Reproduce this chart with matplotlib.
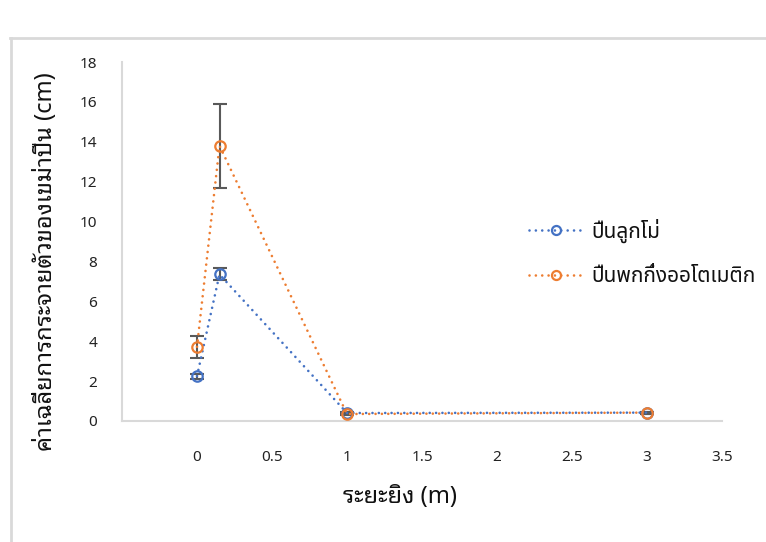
import matplotlib
matplotlib.use("Agg")
import matplotlib.pyplot as plt
from matplotlib.lines import Line2D

# Data
distance = [0, 0.15, 1, 3]
revolver = [2.25, 7.35, 0.4, 0.42]
revolver_err = [0.12, 0.3, 0.05, 0.05]
pistol = [3.72, 13.8, 0.35, 0.42]
pistol_err = [0.55, 2.1, 0.05, 0.05]
series_names = ["ปืนลูกโม่", "ปืนพกกึ่งออโตเมติก"]
xticks = [0, 0.5, 1, 1.5, 2, 2.5, 3, 3.5]
yticks = [0, 2, 4, 6, 8, 10, 12, 14, 16, 18]
xlabel = "ระยะยิง (m)"
ylabel = "ค่าเฉลี่ยการกระจายตัวของเขม่าปืน (cm)"

BLUE = "#4472C4"
ORANGE = "#ED7D31"
ERR = "#595959"
GRID = "#D9D9D9"
TICKFONT = ["Noto Sans", "DejaVu Sans"]
LOOPED = ["Noto Sans Thai Looped", "DejaVu Sans"]
LOOPLESS = ["Noto Sans Thai", "DejaVu Sans"]
DOTS = (0, (0.01, 2.4))
LW = 1.9

fig = plt.figure(figsize=(7.66, 5.42), dpi=100)
ax = fig.add_axes([122/766, 1-421/542, 600/766, (421-62)/542])

for y, e, c in [(revolver, revolver_err, BLUE), (pistol, pistol_err, ORANGE)]:
    ax.errorbar(distance, y, yerr=e, fmt='none', ecolor=ERR, elinewidth=1.5,
                capsize=5, capthick=1.5, zorder=2)
    ax.plot(distance, y, linestyle=DOTS, dash_capstyle='round',
            color=c, lw=LW, zorder=3)
    ax.plot(distance, y, linestyle='none', marker='o', ms=7.5, mfc='none',
            mec=c, mew=1.6, zorder=4)

ax.set_xlim(-0.5, 3.5)
ax.set_ylim(0, 18)
ax.set_xticks(xticks)
ax.set_xticklabels([f"{v:g}" for v in xticks], fontfamily=TICKFONT, fontsize=11)
ax.set_yticks(yticks)
ax.set_yticklabels([f"{v:g}" for v in yticks], fontfamily=TICKFONT, fontsize=11)
ax.tick_params(axis='both', length=0, labelcolor='#222222')
ax.tick_params(axis='y', pad=18)
ax.tick_params(axis='x', pad=21)
for s in ['top', 'right']:
    ax.spines[s].set_visible(False)
for s in ['left', 'bottom']:
    ax.spines[s].set_color(GRID)
    ax.spines[s].set_linewidth(1.5)

fig.text(400/766, 1-497/542, xlabel, ha='center', va='center',
         fontfamily=LOOPED, fontsize=17, color='#111111')
fig.text(46/766, 1-262/542, ylabel, ha='center', va='center', rotation=90,
         fontfamily=LOOPED, fontsize=17, color='#111111')

handles = [Line2D([], [], color=c, linestyle=DOTS, lw=LW, marker='o', ms=6.5,
                  mfc='none', mec=c, mew=1.6, dash_capstyle='round')
           for c in (BLUE, ORANGE)]
leg = ax.legend(handles, series_names, loc='upper left',
                bbox_to_anchor=(510/766, 1-200/542), bbox_transform=fig.transFigure,
                frameon=False, prop={'family': LOOPLESS, 'size': 15},
                handlelength=2.6, handletextpad=0.4, labelspacing=1.1)
for t in leg.get_texts():
    t.set_color('#111111')

# outer frame
fig.add_artist(Line2D([10/766, 1], [1-37.5/542, 1-37.5/542], color=GRID, lw=2,
                      transform=fig.transFigure))
fig.add_artist(Line2D([11/766, 11/766], [1-37.5/542, 0], color=GRID, lw=2,
                      transform=fig.transFigure))

fig.savefig("out.png", dpi=100)
